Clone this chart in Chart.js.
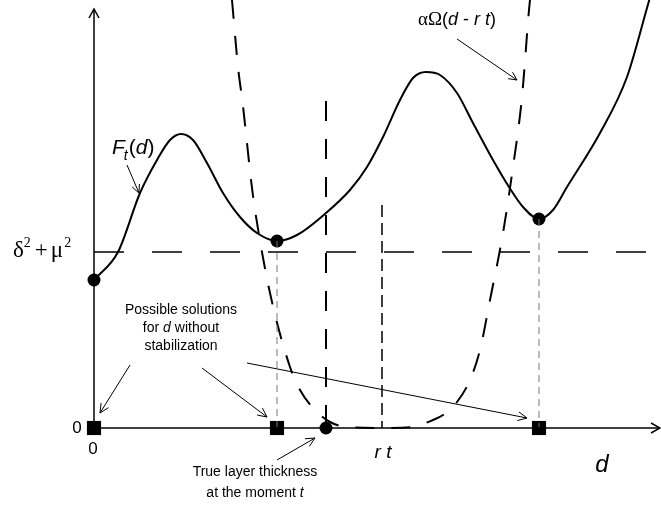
<!DOCTYPE html>
<html><head><meta charset="utf-8">
<script src="https://cdn.jsdelivr.net/npm/chart.js@4"></script>
<style>html,body{margin:0;padding:0;background:#fff}#wrap{width:661px;height:505px}</style>
</head><body><div id="wrap"><canvas id="c" width="661" height="505"></canvas></div>
<script>
// Objective function F_t(d)
const ftD = [0, 2.4, 4.6, 6.3, 7.6, 8.7, 9.9, 11.3, 12.9, 14.6, 16.3, 18.3, 20.3, 23.2, 25.6, 27.3, 28.9, 30.6, 31.9, 33.2, 34.6, 36.3, 37.9, 39.9, 41.5, 42.9, 44.5, 45.9, 47.3, 50.6, 53.3, 55.3, 56.0];
const ftF = [14.8, 17.6, 23.5, 26.8, 28.8, 29.4, 28.8, 26.5, 23.5, 21.1, 19.5, 18.7, 19.3, 21.5, 23.8, 26.1, 29.1, 32.8, 35.0, 35.6, 35.3, 33.5, 30.5, 26.8, 24.1, 22.1, 20.9, 21.8, 24.1, 29.5, 35.1, 42.0, 44.5];
// Stabilizer alpha*Omega(d - r t)
const omD = [13.8, 14.4, 14.9, 15.3, 15.7, 16.1, 17.6, 19.6, 20.6, 22.1, 23.6, 25.3, 28.8, 31.8, 33.9, 34.9, 36.3, 37.6, 38.6, 39.6, 40.9, 41.9, 42.8, 43.5, 43.6];
const omV = [42.8, 36.1, 32.2, 28.5, 24.8, 21.8, 13.5, 6.1, 3.8, 1.8, 0.6, 0.1, 0, 0.1, 0.8, 1.3, 2.6, 4.8, 7.8, 12.8, 19.5, 26.1, 33.1, 41.8, 42.8];
// Level delta^2 + mu^2
const levelD = [0, 56.2];
const levelF = 17.6;
// Local minima of F_t (possible solutions without stabilization)
const minD = [0, 18.3, 44.5];
const minF = [14.8, 18.7, 20.9];
// True layer thickness and r t
const trueD = 23.2, trueTop = 32.7;
const rtD = 28.8, rtTop = 22.3;
// Axes extents
const axisXMax = 56.6, axisYMax = 41.9;

const pts = (xs, ys) => xs.map((x, i) => ({x, y: ys[i]}));
const black = '#000';

const datasets = [
  {data: pts([0, axisXMax], [0, 0]), borderColor: black, borderWidth: 1.5},
  {data: pts([0, 0], [0, axisYMax]), borderColor: black, borderWidth: 1.5},
  {data: pts(levelD, [levelF, levelF]), borderColor: black, borderWidth: 1.5, borderDash: [30, 28]},
  {data: pts([minD[1], minD[1]], [minF[1], 0]), borderColor: '#777', borderWidth: 1, borderDash: [7, 5]},
  {data: pts([minD[2], minD[2]], [minF[2], 0]), borderColor: '#777', borderWidth: 1, borderDash: [7, 5]},
  {data: pts([trueD, trueD], [trueTop, 0]), borderColor: black, borderWidth: 2, borderDash: [20, 18]},
  {data: pts([rtD, rtD], [rtTop, 0]), borderColor: black, borderWidth: 1.5, borderDash: [12, 6]},
  {data: pts(omD, omV), borderColor: black, borderWidth: 2, borderDash: [19, 17], cubicInterpolationMode: 'monotone'},
  {data: pts(ftD, ftF), borderColor: black, borderWidth: 2, cubicInterpolationMode: 'monotone'},
  {data: pts(minD, minF), showLine: false, pointRadius: 6.5, pointStyle: 'circle', pointBackgroundColor: black, pointBorderWidth: 0},
  {data: pts([trueD], [0]), showLine: false, pointRadius: 6.5, pointStyle: 'circle', pointBackgroundColor: black, pointBorderWidth: 0},
  {data: pts(minD, [0, 0, 0]), showLine: false, pointRadius: 10, pointStyle: 'rect', pointBackgroundColor: black, pointBorderWidth: 0}
].map(d => Object.assign({showLine: true, pointRadius: 0, fill: false, tension: 0, borderCapStyle: 'butt', clip: false}, d));

const annot = {
  id: 'annot',
  afterDatasetsDraw(chart) {
    const ctx = chart.ctx, xs = chart.scales.x, ys = chart.scales.y;
    const P = (x, y) => [xs.getPixelForValue(x), ys.getPixelForValue(y)];
    function arrow(x1, y1, x2, y2, head, lw) {
      const a = P(x1, y1), b = P(x2, y2);
      const ang = Math.atan2(b[1] - a[1], b[0] - a[0]);
      ctx.save(); ctx.strokeStyle = black; ctx.lineWidth = lw || 1;
      ctx.beginPath(); ctx.moveTo(a[0], a[1]); ctx.lineTo(b[0], b[1]); ctx.stroke();
      const h = head || 9, s = 0.45;
      ctx.beginPath();
      ctx.moveTo(b[0] - h * Math.cos(ang - s), b[1] - h * Math.sin(ang - s));
      ctx.lineTo(b[0], b[1]);
      ctx.lineTo(b[0] - h * Math.cos(ang + s), b[1] - h * Math.sin(ang + s));
      ctx.stroke(); ctx.restore();
    }
    function text(str, x, y, font, align) {
      const p = P(x, y);
      ctx.save(); ctx.fillStyle = black; ctx.font = font; ctx.textAlign = align || 'center'; ctx.textBaseline = 'middle';
      ctx.fillText(str, p[0], p[1]); ctx.restore();
    }
    function mixed(parts, x, y) {
      const p = P(x, y);
      ctx.save(); ctx.fillStyle = black; ctx.textBaseline = 'middle'; ctx.textAlign = 'left';
      let w = 0; parts.forEach(q => { ctx.font = q[1]; w += ctx.measureText(q[0]).width; });
      let cx = p[0] - w / 2;
      parts.forEach(q => { ctx.font = q[1]; ctx.fillText(q[0], cx, p[1]); cx += ctx.measureText(q[0]).width; });
      ctx.restore();
    }
    // axis arrowheads
    {
      const t = P(0, axisYMax);
      ctx.save(); ctx.strokeStyle = black; ctx.lineWidth = 1.5;
      ctx.beginPath(); ctx.moveTo(t[0] - 5, t[1] + 9); ctx.lineTo(t[0], t[1]); ctx.lineTo(t[0] + 5, t[1] + 9); ctx.stroke();
      const r = P(axisXMax, 0);
      ctx.beginPath(); ctx.moveTo(r[0] - 9, r[1] - 5); ctx.lineTo(r[0], r[1]); ctx.lineTo(r[0] - 9, r[1] + 5); ctx.stroke();
      ctx.restore();
    }
    arrow(3.3, 26.3, 4.5, 23.5, 9);
    arrow(36.3, 38.9, 42.3, 34.8, 9);
    arrow(3.6, 6.3, 0.6, 1.5, 10);
    arrow(10.8, 6.0, 17.3, 1.1, 10);
    arrow(15.3, 6.5, 43.3, 1.0, 10);
    arrow(18.3, -3.2, 22.1, -1.0, 10);

    const sans = '"Liberation Sans", Arial, sans-serif';
    const serif = '"Liberation Serif", "Times New Roman", serif';
    const f1 = '14px ' + sans, f2 = 'italic 14px ' + sans;
    text('Possible solutions', 8.7, 11.8, f1);
    mixed([['for ', f1], ['d', f2], [' without', f1]], 8.7, 10.0);
    text('stabilization', 8.7, 8.2, f1);
    text('True layer thickness', 16.1, -4.4, f1);
    mixed([['at the moment ', f1], ['t', f2]], 16.1, -6.5);
    text('0', -1.7, 0, '17px ' + sans);
    text('0', -0.1, -2.1, '17px ' + sans);
    text('r t', 28.9, -2.5, 'italic 19px ' + sans);
    text('d', 50.8, -3.7, 'italic 24px ' + sans);

    // F_t(d)
    {
      const p = P(1.8, 28.0);
      ctx.save(); ctx.fillStyle = black; ctx.textBaseline = 'middle'; ctx.textAlign = 'left';
      let x = p[0];
      ctx.font = 'italic 21px ' + sans; ctx.fillText('F', x, p[1]); x += ctx.measureText('F').width - 1;
      ctx.font = 'italic 14px ' + sans; ctx.fillText('t', x, p[1] + 8); x += ctx.measureText('t').width + 1;
      ctx.font = '21px ' + sans; ctx.fillText('(', x, p[1]); x += ctx.measureText('(').width;
      ctx.font = 'italic 21px ' + sans; ctx.fillText('d', x, p[1]); x += ctx.measureText('d').width;
      ctx.font = '21px ' + sans; ctx.fillText(')', x, p[1]);
      ctx.restore();
    }
    // alpha Omega (d - r t)
    mixed([['αΩ', '19px ' + serif], ['(', '18px ' + sans], ['d', 'italic 18px ' + sans], [' - ', '18px ' + sans], ['r t', 'italic 18px ' + sans], [')', '18px ' + sans]], 36.3, 40.8);
    // delta^2 + mu^2
    {
      const p = P(-8.1, 17.1);
      ctx.save(); ctx.fillStyle = black; ctx.textBaseline = 'alphabetic'; ctx.textAlign = 'left';
      let x = p[0];
      ctx.font = '23px ' + serif; ctx.fillText('δ', x, p[1]); x += ctx.measureText('δ').width;
      ctx.font = '14px ' + serif; ctx.fillText('2', x, p[1] - 10); x += ctx.measureText('2').width + 4;
      ctx.font = '23px ' + serif; ctx.fillText('+', x, p[1]); x += ctx.measureText('+').width + 3;
      ctx.fillText('μ', x, p[1]); x += ctx.measureText('μ').width + 1;
      ctx.font = '14px ' + serif; ctx.fillText('2', x, p[1] - 10);
      ctx.restore();
    }
  }
};

new Chart(document.getElementById('c'), {
  type: 'scatter',
  data: {datasets},
  options: {
    responsive: false, animation: false, devicePixelRatio: 1,
    layout: {padding: 0, autoPadding: false},
    plugins: {legend: {display: false}, tooltip: {enabled: false}},
    scales: {
      x: {type: 'linear', display: false, min: -9.4, max: 56.7},
      y: {type: 'linear', display: false, min: -7.7, max: 42.8}
    }
  },
  plugins: [annot]
});
</script></body></html>
